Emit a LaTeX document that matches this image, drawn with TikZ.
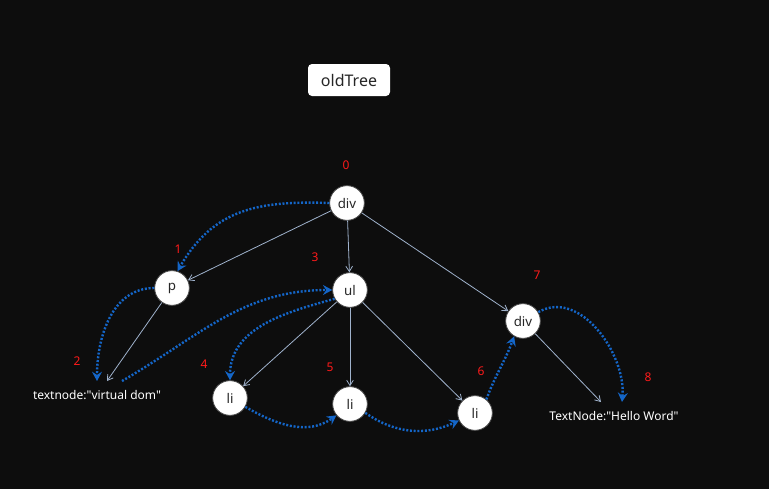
\documentclass[tikz,border=0pt]{standalone}
\usepackage{fontspec}
\setmainfont{Noto Sans}
\newfontfamily\plainsans{Noto Sans}[Ligatures=ResetAll]
\usetikzlibrary{arrows.meta}
\definecolor{bg}{HTML}{0D0D0D}
\definecolor{edge}{HTML}{9FB2CC}
\definecolor{walk}{HTML}{1466C8}
\definecolor{num}{HTML}{FF1A1A}
\tikzset{
  vnode/.style={circle, fill=white, draw=black!70, line width=0.6pt, minimum size=26pt, inner sep=0pt, font=\fontsize{10}{12}\selectfont, text=black!85},
  tnode/.style={text=white, font=\plainsans\fontsize{9}{11}\selectfont, inner sep=1pt},
  idx/.style={text=num, font=\fontsize{9}{11}\selectfont},
  treeedge/.style={draw=edge, line width=0.6pt, -{Straight Barb[length=4pt,width=5pt]}},
  walkedge/.style={draw=walk, line width=1.8pt, dash pattern=on 1.5pt off 1.3pt, -{Stealth[length=7pt,width=7.5pt,inset=2.5pt]}},
}
\begin{document}
\begin{tikzpicture}[x=0.75pt,y=-0.75pt]
\fill[bg] (0,0) rectangle (769,489);
\useasboundingbox (0,0) rectangle (769,489);

\node[fill=white, rounded corners=3pt, minimum width=61.5pt, minimum height=24pt, font=\fontsize{12}{14}\selectfont, text=black!85] (title) at (349,80) {oldTree};

\node[vnode] (div0) at (347,203) {div};
\node[vnode] (p) at (172,288) {p};
\node[vnode] (ul) at (350,290) {ul};
\node[vnode] (div7) at (523,321) {div};
\node[vnode] (li4) at (230,398) {li};
\node[vnode] (li5) at (350,404) {li};
\node[vnode] (li6) at (475,413) {li};
\node[tnode] (t1) at (97,395) {textnode:"virtual dom"};
\node[tnode] (t2) at (614,416) {TextNode:"Hello Word"};

\node[idx] (n0) at (346,165) {0};
\node[idx] (n1) at (178,249) {1};
\node[idx] (n2) at (77,361) {2};
\node[idx] (n3) at (315,257) {3};
\node[idx] (n4) at (204,364) {4};
\node[idx] (n5) at (330,367) {5};
\node[idx] (n6) at (481,371) {6};
\node[idx] (n7) at (537,275) {7};
\node[idx] (n8) at (648,377) {8};

\coordinate (t1a) at (97,381);
\coordinate (t1b) at (107,381);
\coordinate (t1c) at (122,381);
\coordinate (t2a) at (601,402);
\coordinate (t2b) at (622,402);

% tree edges
\draw[treeedge] (div0) -- (p);
\draw[treeedge] (div0) -- (ul);
\draw[treeedge] (div0) -- (div7);
\draw[treeedge] (p) -- (t1b);
\draw[treeedge] (ul) -- (li4);
\draw[treeedge] (ul) -- (li5);
\draw[treeedge] (ul) -- (li6);
\draw[treeedge] (div7) -- (t2a);

% traversal
\draw[walkedge] (div0.west) to[out=178,in=60,looseness=1.1] (p.72);
\draw[walkedge] (p.west) to[out=180,in=90] (t1a);
\draw[walkedge] (t1c) to[out=30,in=180] (ul.west);
\draw[walkedge] (ul.210) to[out=195,in=90] (li4.north);
\draw[walkedge] (li4.-30) to[out=-30,in=215] (li5.220);
\draw[walkedge] (li5.-30) to[out=-35,in=205] (li6.205);
\draw[walkedge] (li6.50) to[out=70,in=250] (div7.240);
\draw[walkedge] (div7.30) to[out=30,in=85] (t2b);
\end{tikzpicture}
\end{document}
